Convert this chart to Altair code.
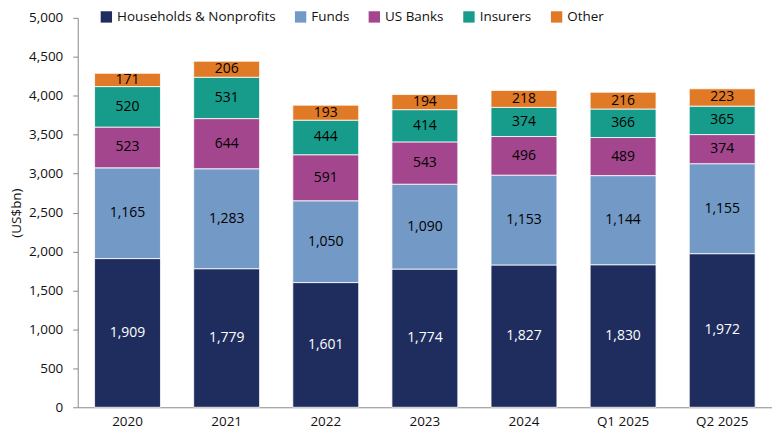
import altair as alt
import pandas as pd

categories = ["2020", "2021", "2022", "2023", "2024", "Q1 2025", "Q2 2025"]
series = ["Households & Nonprofits", "Funds", "US Banks", "Insurers", "Other"]
households = [1909, 1779, 1601, 1774, 1827, 1830, 1972]
funds = [1165, 1283, 1050, 1090, 1153, 1144, 1155]
us_banks = [523, 644, 591, 543, 496, 489, 374]
insurers = [520, 531, 444, 414, 374, 366, 365]
other = [171, 206, 193, 194, 218, 216, 223]
colors = ["#1f2d5e", "#7399c6", "#a4468e", "#179b8a", "#e17a27"]
label_colors = ["white", "black", "black", "black", "black"]

rows = []
for si, (name, vals) in enumerate(zip(series, [households, funds, us_banks, insurers, other])):
    for c, v in zip(categories, vals):
        rows.append({"cat": c, "series": name, "value": v, "idx": si,
                     "lc": label_colors[si]})
df = pd.DataFrame(rows)

FONT = "Open Sans"

base = alt.Chart(df).transform_stack(
    stack="value", groupby=["cat"], as_=["y0", "y1"],
    sort=[alt.SortField("idx", order="ascending")]
).transform_calculate(mid="(datum.y0 + datum.y1) / 2")


def xenc():
    return alt.X("cat:N", sort=categories, title=None,
                 scale=alt.Scale(paddingInner=0.335, paddingOuter=0.17),
                 axis=alt.Axis(labelAngle=0, ticks=False, domainColor="#888888",
                               labelFontSize=13.5, labelPadding=7, labelColor="#111111",
                               labelFont=FONT))


def yaxis():
    return alt.Axis(values=list(range(0, 5001, 500)), format=",.0f",
                    grid=False, domainColor="#888888", tickColor="#888888",
                    tickSize=5, labelFontSize=13.5, labelPadding=10,
                    labelColor="#111111", labelFont=FONT,
                    titleFont=FONT, titleFontSize=13.5, titleFontWeight="normal",
                    titleColor="#111111", titlePadding=5)


def yscale():
    return alt.Scale(domain=[0, 5000], nice=False)


bars = base.mark_bar(stroke="white", strokeWidth=0.8).encode(
    x=xenc(),
    y=alt.Y("y0:Q", title="(US$bn)", scale=yscale(), axis=yaxis()),
    y2="y1:Q",
    color=alt.Color("series:N", sort=series,
                    scale=alt.Scale(domain=series, range=colors),
                    legend=alt.Legend(title=None, orient="none", direction="horizontal",
                                      legendX=22, legendY=-8, symbolType="square",
                                      symbolSize=130, symbolStrokeWidth=0,
                                      labelFontSize=13.5, labelFont=FONT,
                                      labelOffset=4,
                                      labelColor="#111111", columnPadding=18,
                                      symbolOpacity=1)),
)

labels = base.mark_text(fontSize=14, font=FONT).encode(
    x=xenc(),
    y=alt.Y("mid:Q", title="(US$bn)", scale=yscale(), axis=yaxis()),
    text=alt.Text("value:Q", format=","),
    color=alt.Color("lc:N", scale=None),
)

chart = alt.layer(bars, labels).properties(
    width=697, height=391,
    autosize=alt.AutoSizeParams(type="none"),
    padding={"left": 70, "top": 9, "right": 0, "bottom": 30},
).configure_view(stroke=None)

chart.save("out.html", embed_options={"renderer": "svg", "actions": False})
